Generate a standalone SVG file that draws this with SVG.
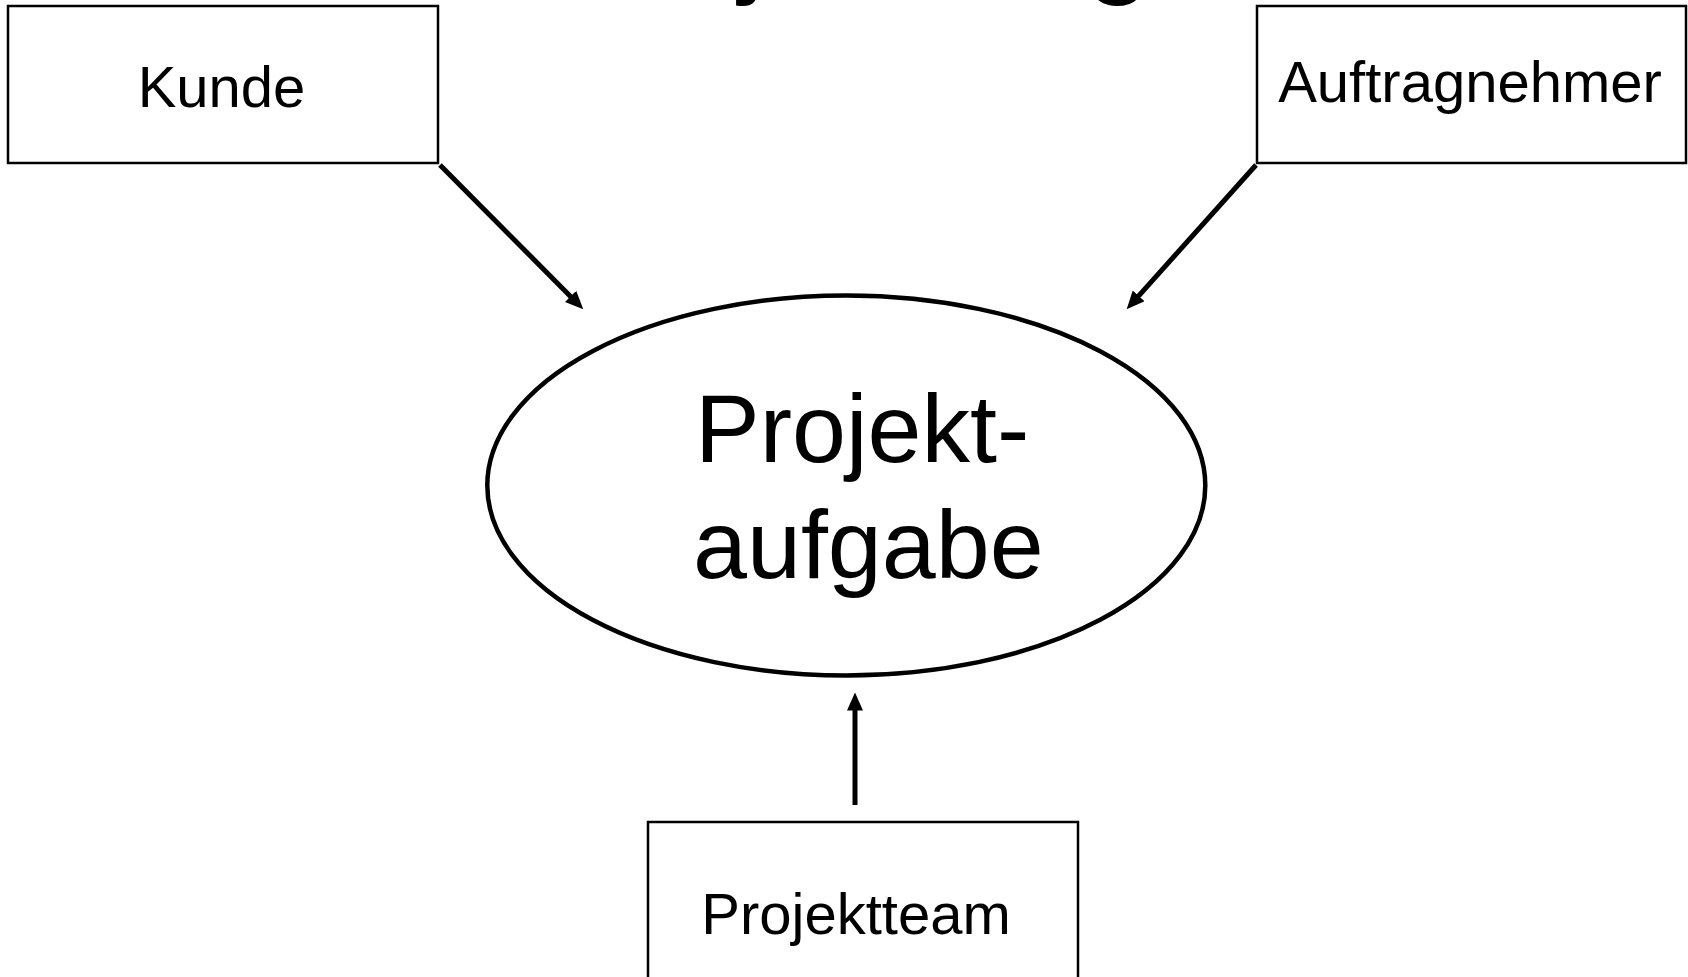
<svg xmlns="http://www.w3.org/2000/svg" width="1688" height="977" viewBox="0 0 1688 977">
<style>
.box{fill:#fff;stroke:#000;stroke-width:2.5}
.lbl{font-family:"Liberation Sans",Arial,sans-serif;fill:#000}
.con{stroke:#000;stroke-width:5;fill:none}
</style>
<defs>
<marker id="ah" viewBox="0 0 18 16" refX="7" refY="8" markerWidth="18" markerHeight="16" markerUnits="userSpaceOnUse" orient="auto">
<path d="M0,0 L18,8 L0,16 z" fill="#000"/>
</marker>
</defs>
<rect width="1688" height="977" fill="#fff"/>
<g id="title">
<text class="lbl" x="739" y="-19" font-size="120">j</text>
<text class="lbl" x="1085" y="-19" font-size="120">g</text>
</g>
<g id="connectors">
<line class="con" x1="440" y1="165" x2="575.5" y2="301.4" marker-end="url(#ah)"/>
<line class="con" x1="1256" y1="165" x2="1134" y2="301.1" marker-end="url(#ah)"/>
<line class="con" x1="855" y1="805" x2="855" y2="703.5" marker-end="url(#ah)"/>
</g>
<g id="kunde">
<rect class="box" x="8" y="6" width="430" height="157"/>
<text class="lbl" x="221.5" y="107" font-size="58" text-anchor="middle">Kunde</text>
</g>
<g id="auftragnehmer">
<rect class="box" x="1257" y="6" width="429" height="157"/>
<text class="lbl" x="1470" y="102" font-size="58" text-anchor="middle">Auftragnehmer</text>
</g>
<g id="projektaufgabe">
<ellipse cx="846.3" cy="485.5" rx="359" ry="190" fill="#fff" stroke="#000" stroke-width="4.5"/>
<text class="lbl" x="695" y="462" font-size="97">Projekt-</text>
<text class="lbl" x="693" y="578" font-size="97">aufgabe</text>
</g>
<g id="projektteam">
<rect class="box" x="648" y="822" width="430" height="170"/>
<text class="lbl" x="856" y="934" font-size="58" text-anchor="middle">Projektteam</text>
</g>
</svg>
